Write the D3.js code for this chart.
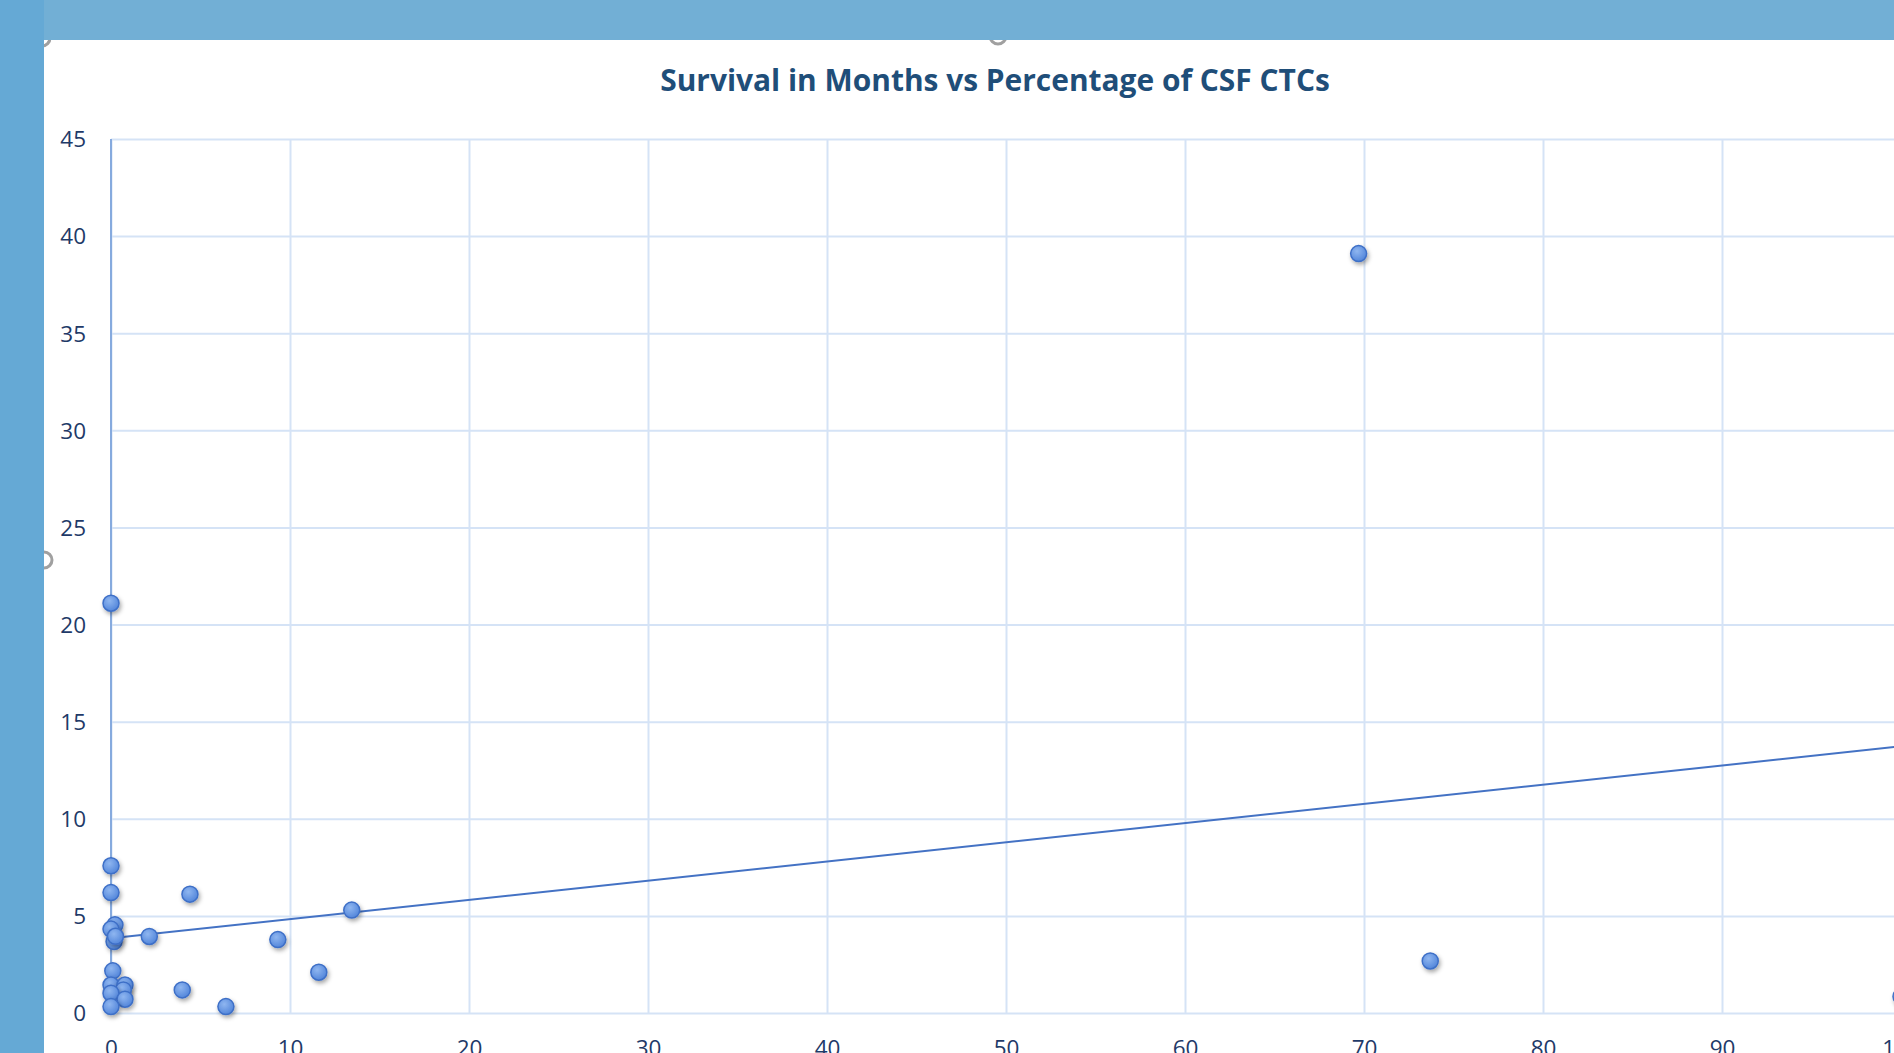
<!DOCTYPE html>
<html>
<head>
<meta charset="utf-8">
<script src="https://cdn.jsdelivr.net/npm/d3@7"></script>
<style>
  html, body { margin: 0; padding: 0; background: #ffffff; overflow: hidden; }
  svg { display: block; }
</style>
</head>
<body>
<svg id="chart" width="1894" height="1053"></svg>
<script>
// ---------- data ----------
const chartTitle = "Survival in Months vs Percentage of CSF CTCs";
const ctcPercent = [0, 69.7, 73.7, 100, 0, 0, 4.41, 13.45, 9.32, 11.61, 2.14, 3.98, 6.42,
                    0.22, 0, 0.17, 0.25, 0.1, 0, 0.78, 0.69, 0, 0.78, 0];
const survivalMonths = [21.1, 39.1, 2.68, 0.85, 7.58, 6.2, 6.12, 5.3, 3.78, 2.1, 3.94, 1.19, 0.33,
                        4.54, 4.32, 3.68, 3.95, 2.17, 1.44, 1.44, 1.19, 1.02, 0.71, 0.33];
const xTicks = [0, 10, 20, 30, 40, 50, 60, 70, 80, 90, 100];
const yTicks = [0, 5, 10, 15, 20, 25, 30, 35, 40, 45];
const trendIntercept = 3.85;
const trendSlope = 0.0988;

// ---------- layout ----------
const W = 1894, H = 1053;
const svg = d3.select("#chart");
const plot = { left: 111, top: 139, right: 1901, bottom: 1013 };

const x = d3.scaleLinear().domain([0, 100]).range([plot.left, plot.right]);
const y = d3.scaleLinear().domain([0, 45]).range([plot.bottom, plot.top]);

const defs = svg.append("defs");
const grad = defs.append("radialGradient").attr("id", "mk")
  .attr("cx", "40%").attr("cy", "35%").attr("r", "70%");
grad.append("stop").attr("offset", "0%").attr("stop-color", "#8fb6f0");
grad.append("stop").attr("offset", "100%").attr("stop-color", "#4f83d9");
const shadow = defs.append("filter").attr("id", "sh")
  .attr("x", "-80%").attr("y", "-80%").attr("width", "260%").attr("height", "260%");
shadow.append("feDropShadow").attr("dx", 1.5).attr("dy", 2.5).attr("stdDeviation", 2.2)
  .attr("flood-color", "#000").attr("flood-opacity", 0.35);

// white chart area
svg.append("rect").attr("x", 0).attr("y", 0).attr("width", W).attr("height", H).attr("fill", "#ffffff");

// gridlines
const gridColor = "#d5e3f6";
svg.append("g").attr("class", "ygrid")
  .attr("transform", `translate(${plot.left},0)`)
  .call(d3.axisLeft(y).tickValues(yTicks).tickSize(-(plot.right - plot.left)).tickFormat(""))
  .call(g => g.select(".domain").remove())
  .call(g => g.selectAll("line").attr("stroke", gridColor).attr("stroke-width", 2));
svg.append("g").attr("class", "xgrid")
  .attr("transform", `translate(0,${plot.bottom})`)
  .call(d3.axisBottom(x).tickValues(xTicks).tickSize(-(plot.bottom - plot.top)).tickFormat(""))
  .call(g => g.select(".domain").remove())
  .call(g => g.selectAll("line").attr("stroke", gridColor).attr("stroke-width", 2));

// vertical axis line at x = 0
svg.append("line")
  .attr("x1", x(0)).attr("x2", x(0)).attr("y1", y(45)).attr("y2", y(0))
  .attr("stroke", "#86aade").attr("stroke-width", 2);

// tick labels
const tickColor = "#1f3a68";
const fontFam = "'Open Sans', 'Noto Sans', sans-serif";
const yAx = svg.append("g").attr("transform", `translate(${plot.left - 25},0)`)
  .call(d3.axisLeft(y).tickValues(yTicks).tickSize(0).tickFormat(d3.format("d")));
yAx.select(".domain").remove();
yAx.selectAll("text").attr("fill", tickColor).attr("font-family", fontFam)
  .attr("font-size", 22.5).attr("dy", "0.35em").attr("x", 0);

const xAx = svg.append("g").attr("transform", `translate(0,${plot.bottom + 27})`)
  .call(d3.axisBottom(x).tickValues(xTicks).tickSize(0).tickFormat(d3.format("d")));
xAx.select(".domain").remove();
xAx.selectAll("text").attr("fill", tickColor).attr("font-family", fontFam)
  .attr("font-size", 22.5).attr("dy", "0.71em").attr("y", 0);

// trendline
svg.append("line")
  .attr("x1", x(0)).attr("y1", y(trendIntercept))
  .attr("x2", x(100)).attr("y2", y(trendIntercept + trendSlope * 100))
  .attr("stroke", "#4472c4").attr("stroke-width", 2);

// points
const pts = ctcPercent.map((v, i) => ({ x: v, y: survivalMonths[i] }));
svg.append("g").selectAll("circle").data(pts).join("circle")
  .attr("cx", d => x(d.x)).attr("cy", d => y(d.y)).attr("r", 8)
  .attr("fill", "url(#mk)").attr("stroke", "#3e6fc7").attr("stroke-width", 1.5)
  .attr("filter", "url(#sh)");

// title
const title = svg.append("text")
  .attr("x", 995).attr("y", 91).attr("text-anchor", "middle")
  .attr("font-family", fontFam).attr("font-weight", "bold")
  .attr("font-size", 28).attr("fill", "#1f4e79").text(chartTitle);
const tw = title.node().getComputedTextLength();
title.attr("font-size", 28 * 670 / tw);

// selection handles (partially hidden behind the window frame)
const handles = [[998, 36], [44, 560], [42, 38]];
svg.append("g").selectAll("circle").data(handles).join("circle")
  .attr("cx", d => d[0]).attr("cy", d => d[1]).attr("r", 8)
  .attr("fill", "#ffffff").attr("stroke", "#a0a0a0").attr("stroke-width", 3);

// window frame (blue bars)
svg.append("rect").attr("x", 0).attr("y", 0).attr("width", W).attr("height", 40).attr("fill", "#72afd5");
svg.append("rect").attr("x", 0).attr("y", 0).attr("width", 44).attr("height", H).attr("fill", "#65a9d5");
</script>
</body>
</html>
